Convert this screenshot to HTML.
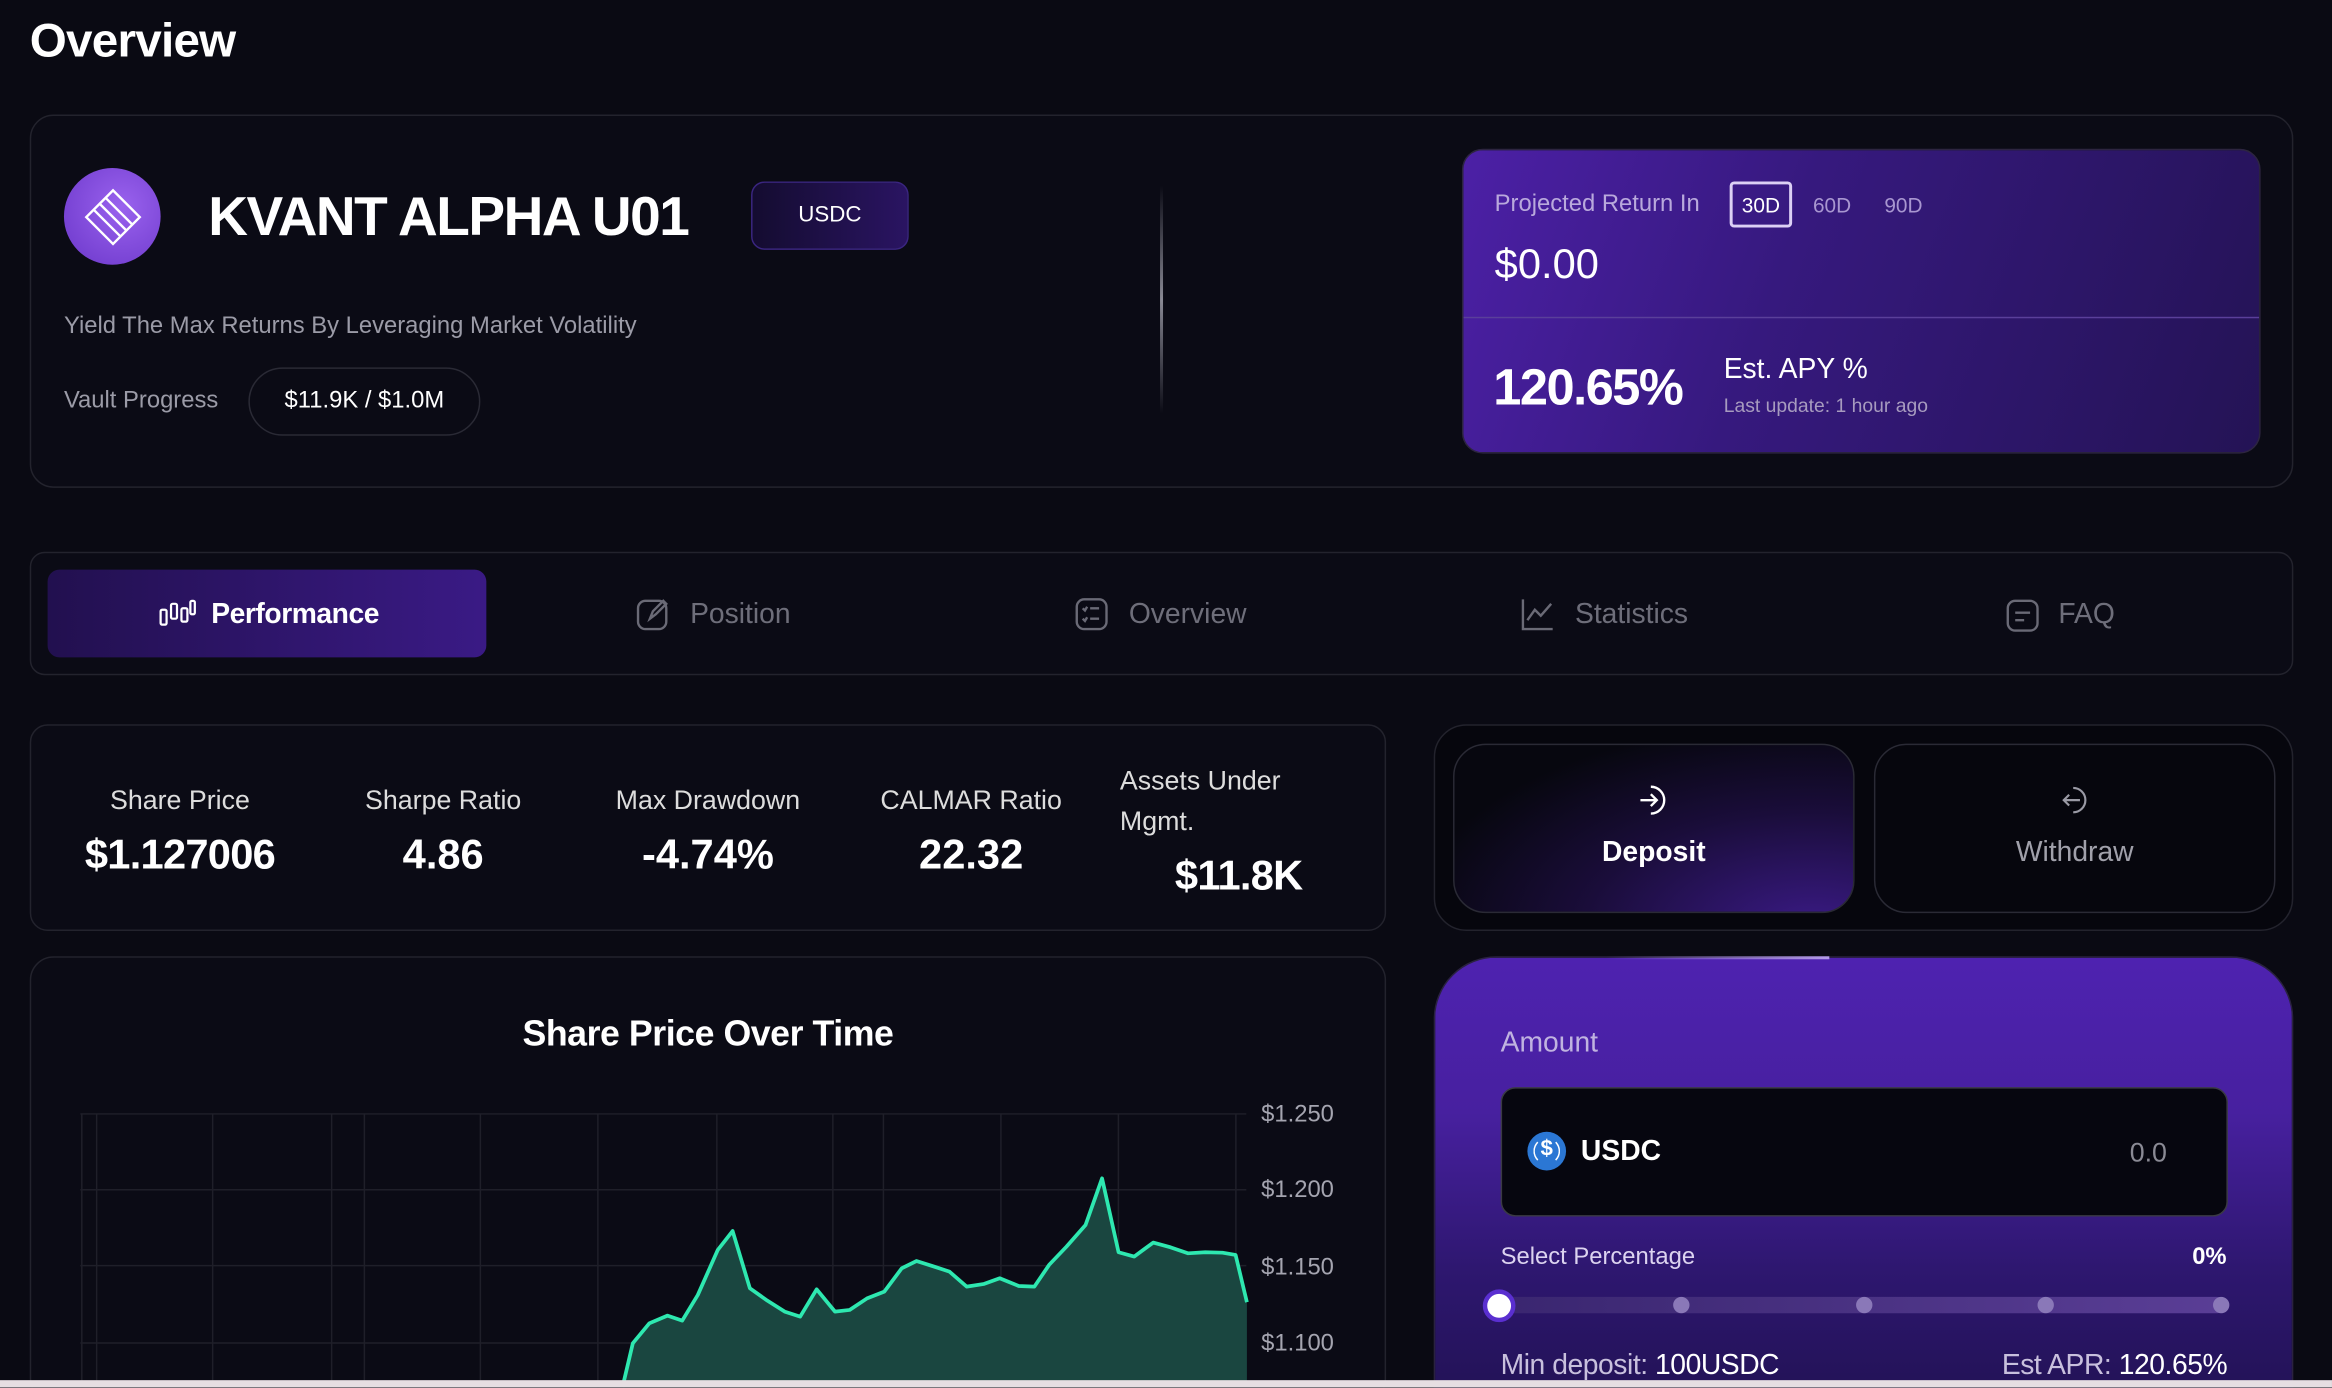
<!DOCTYPE html>
<html><head><meta charset="utf-8"><style>
*{box-sizing:border-box;margin:0;padding:0}
html,body{width:2332px;height:1388px;overflow:hidden;background:#0a0a13;font-family:"Liberation Sans",sans-serif;color:#fff}
#w{position:absolute;left:0;top:0;width:1568px;height:933px;transform:scale(1.48724);transform-origin:0 0;background:#0a0a13;overflow:hidden}
.a{position:absolute}
.card{position:absolute;border:1.5px solid #23232d;background:#0b0b15}
.t{position:absolute;white-space:nowrap}
</style></head><body><div id="w">
<div class="t" style="left:20px;top:9px;font-size:32px;font-weight:bold;letter-spacing:-0.5px">Overview</div>

<div class="card" style="left:20px;top:77px;width:1522px;height:251px;border-radius:16px"></div>
<div class="a" style="left:43px;top:113px;width:65px;height:65px;border-radius:50%;background:radial-gradient(circle at 60% 40%,#9a62ee,#6a36c9)"></div>
<svg class="a" style="left:55px;top:125px" width="42" height="42" viewBox="0 0 42 42"><g fill="none" stroke="#fff" stroke-width="1.6"><polygon points="21,3 39,21 21,39 3,21"/><line x1="12" y1="12" x2="30" y2="30"/><line x1="8" y1="16" x2="26" y2="34"/><line x1="16" y1="8" x2="34" y2="26"/></g></svg>
<div class="t" style="left:140px;top:125px;font-size:37px;font-weight:bold;letter-spacing:-1px">KVANT ALPHA U01</div>
<div class="a" style="left:505px;top:122px;width:106px;height:46px;border-radius:9px;background:linear-gradient(90deg,#140c30,#2a1462);border:1.5px solid #3a2580"></div>
<div class="t" style="left:505px;top:136px;width:106px;text-align:center;font-size:15px">USDC</div>
<div class="t" style="left:43px;top:211px;font-size:16px;color:#9b9ba7">Yield The Max Returns By Leveraging Market Volatility</div>
<div class="t" style="left:43px;top:261px;font-size:16px;color:#9b9ba7">Vault Progress</div>
<div class="a" style="left:167px;top:247px;width:156px;height:46px;border-radius:23px;border:1.5px solid #2a2a35"></div>
<div class="t" style="left:167px;top:261px;width:156px;text-align:center;font-size:16px">$11.9K / $1.0M</div>
<div class="a" style="left:780px;top:125px;width:2px;height:153px;background:linear-gradient(#0b0b15,#8a8a95,#0b0b15)"></div>

<div class="a" style="left:983px;top:100px;width:537px;height:205px;border-radius:14px;background:linear-gradient(110deg,#4c20a6 0%,#36197e 40%,#241355 100%);border:1.5px solid #2d2540;overflow:hidden">
<div class="a" style="left:0;top:112px;width:100%;height:1px;background:#5a3f9a"></div>
</div>
<div class="t" style="left:1005px;top:129px;font-size:16px;color:#b9a9dc">Projected Return In</div>
<div class="a" style="left:1163px;top:122px;width:42px;height:31px;border:2px solid #dcd0f5;border-radius:3px"></div>
<div class="t" style="left:1163px;top:130px;width:42px;text-align:center;font-size:14px">30D</div>
<div class="t" style="left:1219px;top:130px;font-size:14px;color:#a896d0">60D</div>
<div class="t" style="left:1267px;top:130px;font-size:14px;color:#a896d0">90D</div>
<div class="t" style="left:1005px;top:162px;font-size:28px">$0.00</div>
<div class="t" style="left:1004px;top:242px;font-size:34px;font-weight:bold;letter-spacing:-1px">120.65%</div>
<div class="t" style="left:1159px;top:238px;font-size:19px">Est. APY %</div>
<div class="t" style="left:1159px;top:265px;font-size:13px;color:#a79bbf">Last update: 1 hour ago</div>

<div class="card" style="left:20px;top:371px;width:1522px;height:83px;border-radius:10px"></div>
<div class="a" style="left:32px;top:383px;width:295px;height:59px;border-radius:8px;background:linear-gradient(90deg,#22104f,#3a1a85)"></div>
<svg class="a" style="left:106px;top:401px" width="26" height="24" viewBox="0 0 26 24"><g fill="none" stroke="#fff" stroke-width="1.5"><rect x="2" y="9" width="4" height="10" rx="1"/><rect x="9" y="5" width="4" height="10" rx="1"/><rect x="16" y="8" width="4" height="9" rx="1"/><rect x="22" y="3" width="3" height="9" rx="1"/></g></svg>
<div class="t" style="left:142px;top:403px;font-size:19px;font-weight:bold;letter-spacing:-0.3px">Performance</div>
<svg class="a" style="left:427px;top:401px" width="24" height="24" viewBox="0 0 24 24"><g fill="none" stroke="#6a6a76" stroke-width="1.6"><rect x="2" y="3" width="19" height="19" rx="5"/><path d="M10 15l2-5 7-7 2 2-7 7z"/></g></svg>
<div class="t" style="left:464px;top:403px;font-size:19px;color:#6e6e7a">Position</div>
<svg class="a" style="left:722px;top:401px" width="24" height="24" viewBox="0 0 24 24"><g fill="none" stroke="#6a6a76" stroke-width="1.6"><rect x="2" y="2" width="20" height="20" rx="5"/><path d="M11 8h6M11 15h6M6 8l1.5 1.5L9 7M6 15l1.5 1.5L9 14"/></g></svg>
<div class="t" style="left:759px;top:403px;font-size:19px;color:#6e6e7a">Overview</div>
<svg class="a" style="left:1022px;top:401px" width="24" height="24" viewBox="0 0 24 24"><g fill="none" stroke="#6a6a76" stroke-width="1.6"><path d="M2 2v20h20"/><path d="M5 16l5-7 4 4 7-8"/></g></svg>
<div class="t" style="left:1059px;top:403px;font-size:19px;color:#6e6e7a">Statistics</div>
<svg class="a" style="left:1348px;top:402px" width="24" height="24" viewBox="0 0 24 24"><g fill="none" stroke="#6a6a76" stroke-width="1.6"><rect x="2" y="2" width="20" height="20" rx="5"/><path d="M7 10h10M7 15h6"/></g></svg>
<div class="t" style="left:1384px;top:403px;font-size:19px;color:#6e6e7a">FAQ</div>

<div class="card" style="left:20px;top:487px;width:912px;height:139px;border-radius:12px"></div>
<div class="t" style="left:21px;top:528px;width:200px;text-align:center;font-size:18px;color:#ddd">Share Price</div>
<div class="t" style="left:21px;top:559px;width:200px;text-align:center;font-size:28px;font-weight:bold;letter-spacing:-0.5px">$1.127006</div>
<div class="t" style="left:198px;top:528px;width:200px;text-align:center;font-size:18px;color:#ddd">Sharpe Ratio</div>
<div class="t" style="left:198px;top:559px;width:200px;text-align:center;font-size:28px;font-weight:bold">4.86</div>
<div class="t" style="left:376px;top:528px;width:200px;text-align:center;font-size:18px;color:#ddd">Max Drawdown</div>
<div class="t" style="left:376px;top:559px;width:200px;text-align:center;font-size:28px;font-weight:bold">-4.74%</div>
<div class="t" style="left:553px;top:528px;width:200px;text-align:center;font-size:18px;color:#ddd">CALMAR Ratio</div>
<div class="t" style="left:553px;top:559px;width:200px;text-align:center;font-size:28px;font-weight:bold">22.32</div>
<div class="t" style="left:753px;top:512px;font-size:18px;color:#ddd;line-height:27px;white-space:normal;width:130px">Assets Under Mgmt.</div>
<div class="t" style="left:790px;top:573px;font-size:28px;font-weight:bold;letter-spacing:-0.5px">$11.8K</div>

<div class="card" style="left:20px;top:643px;width:912px;height:300px;border-radius:16px"></div>
<div class="t" style="left:20px;top:682px;width:912px;text-align:center;font-size:24px;font-weight:bold;letter-spacing:-0.3px">Share Price Over Time</div>
<svg class="a" style="left:0;top:0" width="940" height="933">
<g stroke="#1f1f29" stroke-width="1">
<line x1="54" y1="749" x2="838" y2="749"/><line x1="54" y1="800" x2="838" y2="800"/><line x1="54" y1="851" x2="838" y2="851"/><line x1="54" y1="903" x2="838" y2="903"/>
<line x1="55" y1="749" x2="55" y2="933"/><line x1="65" y1="749" x2="65" y2="933"/><line x1="143" y1="749" x2="143" y2="933"/><line x1="223" y1="749" x2="223" y2="933"/><line x1="245" y1="749" x2="245" y2="933"/><line x1="323" y1="749" x2="323" y2="933"/><line x1="402" y1="749" x2="402" y2="933"/><line x1="482" y1="749" x2="482" y2="933"/><line x1="560" y1="749" x2="560" y2="933"/><line x1="594" y1="749" x2="594" y2="933"/><line x1="673" y1="749" x2="673" y2="933"/><line x1="752" y1="749" x2="752" y2="933"/><line x1="831" y1="749" x2="831" y2="933"/>
</g>
<polygon fill="#1a4640" points="418.5,933 418.5,927.9 425.5,903.2 436.6,889.8 448.8,884.6 458.7,888 469.2,870.7 482.6,840.5 492.6,827.7 504.2,866.2 515.9,874.5 527.6,881.9 538,885.3 549.1,866.9 561.4,881.9 571.3,880.8 583,873 594.6,868.5 606.3,852.8 616.2,847.9 626.7,851.2 638.4,855 650,865.1 661.7,863.3 672.2,859.5 685,864.7 695.5,865.1 705.4,850.5 717.1,838.2 729.9,823.7 741,792.3 752.1,842 762.6,844.9 775.4,835.5 787.1,838.7 798.7,842.7 810.4,842 822,842.3 830.8,843.8 838.4,875.6 838.4,933"/>
<polyline fill="none" stroke="#2ee8b0" stroke-width="2.5" stroke-linejoin="round" points="418.5,933 425.5,903.2 436.6,889.8 448.8,884.6 458.7,888 469.2,870.7 482.6,840.5 492.6,827.7 504.2,866.2 515.9,874.5 527.6,881.9 538,885.3 549.1,866.9 561.4,881.9 571.3,880.8 583,873 594.6,868.5 606.3,852.8 616.2,847.9 626.7,851.2 638.4,855 650,865.1 661.7,863.3 672.2,859.5 685,864.7 695.5,865.1 705.4,850.5 717.1,838.2 729.9,823.7 741,792.3 752.1,842 762.6,844.9 775.4,835.5 787.1,838.7 798.7,842.7 810.4,842 822,842.3 830.8,843.8 838.4,875.6"/>
<g fill="#a5a5b0" font-family="Liberation Sans" font-size="16"><text x="848" y="754">$1.250</text><text x="848" y="805">$1.200</text><text x="848" y="857">$1.150</text><text x="848" y="908">$1.100</text></g>
</svg>

<div class="card" style="left:964px;top:487px;width:578px;height:139px;border-radius:22px;background:#06060d"></div>
<div class="a" style="left:977px;top:500px;width:270px;height:114px;border-radius:22px;border:1.5px solid #2a2a35;background:radial-gradient(ellipse at 90% 110%,#3a1a85 0%,#1a0d3a 45%,#07070f 80%)"></div>
<div class="a" style="left:1260px;top:500px;width:270px;height:114px;border-radius:22px;border:1.5px solid #2a2a35;background:#06060d"></div>
<svg class="a" style="left:1101px;top:527px" width="22" height="22" viewBox="0 0 22 22"><g fill="none" stroke="#fff" stroke-width="1.6"><path d="M9 2a9 9 0 1 1 0 18"/><path d="M2 11h11M9 7l4 4-4 4"/></g></svg>
<div class="t" style="left:977px;top:563px;width:270px;text-align:center;font-size:19px;font-weight:bold">Deposit</div>
<svg class="a" style="left:1384px;top:528px" width="20" height="20" viewBox="0 0 22 22"><g fill="none" stroke="#9a9aa5" stroke-width="1.6"><path d="M11 2a9 9 0 1 1 0 18"/><path d="M16 11H4M8 7l-4 4 4 4"/></g></svg>
<div class="t" style="left:1260px;top:563px;width:270px;text-align:center;font-size:19px;color:#a0a0aa">Withdraw</div>

<div class="a" style="left:964px;top:643px;width:578px;height:300px;border-radius:42px 42px 0 0;border:1.5px solid #2a2240;background:linear-gradient(180deg,#4e22b0 0%,#47209f 35%,#2e1770 70%,#221255 100%)"></div>
<div class="a" style="left:1080px;top:643px;width:150px;height:2px;background:linear-gradient(90deg,transparent,#b39ae8)"></div>
<div class="t" style="left:1009px;top:691px;font-size:19px;color:#c0b3e0">Amount</div>
<div class="a" style="left:1009px;top:731px;width:489px;height:87px;border-radius:10px;background:#06060f;border:1.5px solid #3a3a44"></div>
<div class="a" style="left:1027px;top:761px;width:26px;height:26px;border-radius:50%;background:#2b77d4"></div>
<div class="t" style="left:1027px;top:764px;width:26px;text-align:center;font-size:15px;font-weight:bold">$</div>
<div class="a" style="left:1031px;top:765px;width:18px;height:18px;border-radius:50%;border:1.5px solid #fff;border-top-color:transparent;border-bottom-color:transparent"></div>
<div class="t" style="left:1063px;top:764px;font-size:19px;font-weight:bold">USDC</div>
<div class="t" style="left:1432px;top:765px;font-size:18px;color:#8a8a95">0.0</div>
<div class="t" style="left:1009px;top:837px;font-size:16px;color:#dcd3f0">Select Percentage</div>
<div class="t" style="left:1474px;top:837px;font-size:16px;font-weight:bold">0%</div>
<div class="a" style="left:1010px;top:872px;width:486px;height:11px;border-radius:6px;background:linear-gradient(90deg,#3a2670,#5a3e96)"></div>
<div class="a" style="left:1125px;top:872px;width:11px;height:11px;border-radius:50%;background:#8a78b8"></div>
<div class="a" style="left:1248px;top:872px;width:11px;height:11px;border-radius:50%;background:#8a78b8"></div>
<div class="a" style="left:1370px;top:872px;width:11px;height:11px;border-radius:50%;background:#8a78b8"></div>
<div class="a" style="left:1488px;top:872px;width:11px;height:11px;border-radius:50%;background:#8a78b8"></div>
<div class="a" style="left:997px;top:867px;width:22px;height:22px;border-radius:50%;background:#fff;border:3px solid #5a2fd0"></div>
<div class="t" style="left:1009px;top:908px;font-size:19px;color:#c8c0dd;letter-spacing:-0.3px">Min deposit: <span style="color:#fff">100USDC</span></div>
<div class="t" style="left:1346px;top:908px;font-size:19px;color:#c8c0dd;letter-spacing:-0.3px">Est APR: <span style="color:#fff">120.65%</span></div>

<div class="a" style="left:0;top:928px;width:1568px;height:5px;background:#e6dee2"></div>
</div></body></html>
